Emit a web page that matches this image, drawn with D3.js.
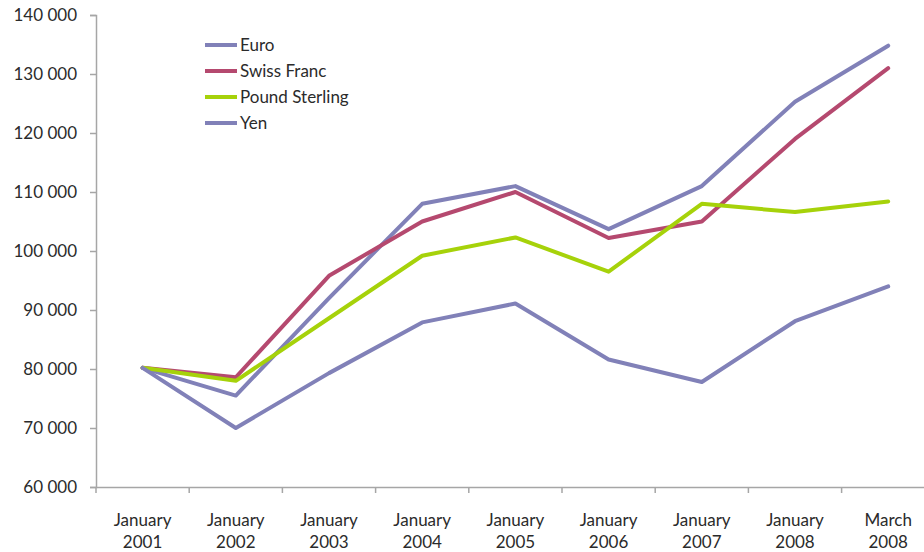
<!DOCTYPE html>
<html>
<head>
<meta charset="utf-8">
<script src="https://cdn.jsdelivr.net/npm/d3@7"></script>
<style>
  body { margin: 0; background: #fff; }
  svg { display: block; }
  text { font-family: Lato, "Open Sans", sans-serif; fill: #2b2b2b; }
</style>
</head>
<body>
<script>
'use strict';

var categories = [
    ['January', '2001'], ['January', '2002'], ['January', '2003'],
    ['January', '2004'], ['January', '2005'], ['January', '2006'],
    ['January', '2007'], ['January', '2008'], ['March', '2008']
];

var euro = [80200, 75500, 92000, 108000, 111000, 103700, 111000, 125300, 134800];
var swissFranc = [80200, 78600, 95800, 105000, 110000, 102200, 105000, 119000, 131000];
var poundSterling = [80200, 78000, 88600, 99200, 102300, 96500, 108000, 106600, 108400];
var yen = [80200, 70000, 79300, 87900, 91100, 81600, 77800, 88100, 94000];

var seriesNames = ['Euro', 'Swiss Franc', 'Pound Sterling', 'Yen'];
var seriesColors = ['#8181b8', '#b5496f', '#a6d20a', '#8181b8'];

var yTicks = [60000, 70000, 80000, 90000, 100000, 110000, 120000, 130000, 140000];

var width = 924, height = 552;

var svg = d3.select('body').append('svg')
    .attr('width', width)
    .attr('height', height);

var x = d3.scaleBand()
    .domain(d3.range(categories.length))
    .range([96, 96 + 93.2 * categories.length]);

var y = d3.scaleLinear()
    .domain([60000, 140000])
    .range([487, 15]);

var axisColor = '#a6a6a6';

// y axis
var yAxis = svg.append('g')
    .attr('transform', 'translate(' + x.range()[0] + ',0)')
    .call(d3.axisLeft(y)
        .tickValues(yTicks)
        .tickSize(6)
        .tickPadding(13)
        .tickFormat(function(d) { return d3.format(',')(d).replace(/,/g, ' '); }));

// x axis
var xAxis = svg.append('g')
    .attr('transform', 'translate(0,' + y(60000) + ')')
    .call(d3.axisBottom(x).tickSize(0).tickFormat(''));

xAxis.selectAll('.xtick')
    .data(d3.range(categories.length + 1))
    .enter().append('line')
    .attr('class', 'xtick')
    .attr('x1', function(i) { return x.range()[0] + i * x.step(); })
    .attr('x2', function(i) { return x.range()[0] + i * x.step(); })
    .attr('y1', 0)
    .attr('y2', 6);

[yAxis, xAxis].forEach(function(ax) {
    ax.select('.domain').attr('stroke', axisColor).attr('stroke-width', 1.5);
    ax.selectAll('line').attr('stroke', axisColor).attr('stroke-width', 1.5);
    ax.selectAll('text')
        .style('font-family', 'Lato, "Open Sans", sans-serif')
        .style('font-size', '17px')
        .attr('fill', '#2b2b2b');
});

// category labels on two lines
var catLabels = svg.append('g').selectAll('text')
    .data(categories)
    .enter().append('text')
    .attr('text-anchor', 'middle')
    .style('font-size', '17px')
    .attr('x', function(d, i) { return x(i) + x.bandwidth() / 2; });

catLabels.append('tspan')
    .attr('y', 526)
    .text(function(d) { return d[0]; });

catLabels.append('tspan')
    .attr('x', function(d, i) { return x(i) + x.bandwidth() / 2; })
    .attr('y', 548)
    .text(function(d) { return d[1]; });

// lines
var allSeries = [euro, swissFranc, poundSterling, yen];

var line = d3.line()
    .x(function(d, i) { return x(i) + x.bandwidth() / 2; })
    .y(function(d) { return y(d); });

svg.append('g').selectAll('path')
    .data(allSeries)
    .enter().append('path')
    .attr('fill', 'none')
    .attr('stroke', function(d, i) { return seriesColors[i]; })
    .attr('stroke-width', 4)
    .attr('stroke-linejoin', 'round')
    .attr('stroke-linecap', 'round')
    .attr('d', line);

// legend
var legend = svg.append('g').selectAll('g')
    .data(seriesNames)
    .enter().append('g')
    .attr('transform', function(d, i) { return 'translate(205,' + (45 + i * 26) + ')'; });

legend.append('line')
    .attr('x1', 0).attr('x2', 32)
    .attr('stroke', function(d, i) { return seriesColors[i]; })
    .attr('stroke-width', 4);

legend.append('text')
    .attr('x', 35)
    .attr('dy', '0.35em')
    .style('font-size', '17px')
    .attr('fill', '#111')
    .text(function(d) { return d; });
</script>
</body>
</html>
